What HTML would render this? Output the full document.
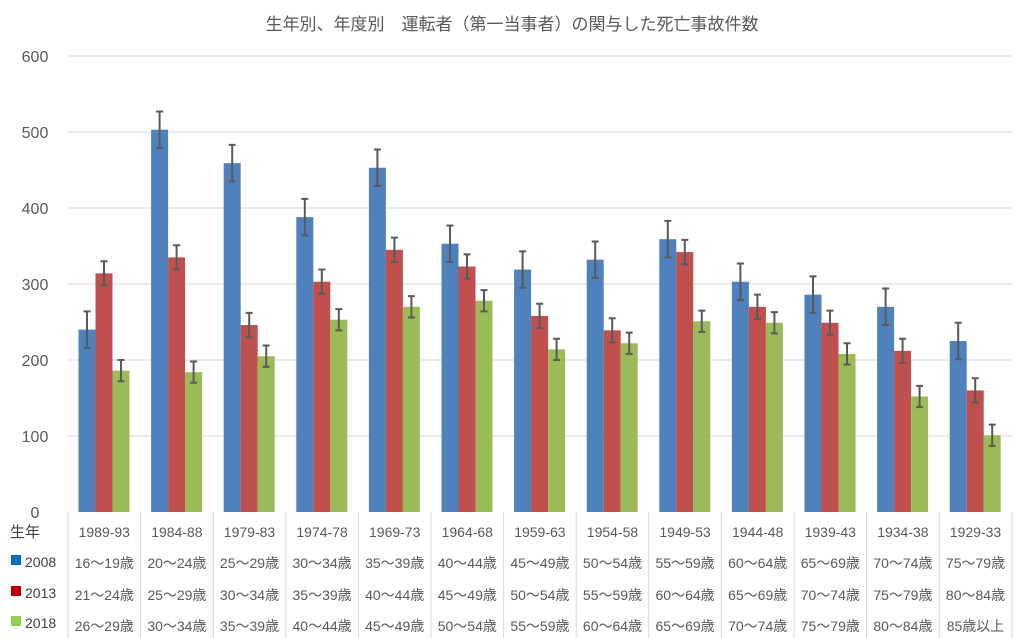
<!DOCTYPE html>
<html><head><meta charset="utf-8">
<style>
html,body{margin:0;padding:0;background:#fff;width:1024px;height:638px;overflow:hidden}
svg text{font-family:"Liberation Sans","Noto Sans CJK JP",sans-serif}
</style></head>
<body>
<svg id="c" width="1024" height="638" xmlns="http://www.w3.org/2000/svg"></svg>
<script>
const s=document.getElementById('c');
let h='';
h+='<text x="512" y="30" text-anchor="middle" font-size="17" fill="#595959">生年別、年度別　運転者（第一当事者）の関与した死亡事故件数</text>';
for(let i=0;i<=6;i++){const y=512-i*76;
 if(i>0)h+=`<line x1="68" x2="1012" y1="${y}" y2="${y}" stroke="#d9d9d9" stroke-width="1"/>`;
 h+=`<text x="35" y="${y+6}" text-anchor="middle" font-size="16" fill="#595959">${i*100}</text>`;}
const L=['1989-93','1984-88','1979-83','1974-78','1969-73','1964-68','1959-63','1954-58','1949-53','1944-48','1939-43','1934-38','1929-33'];
const D=[[240,314,186],[503,335,184],[459,246,205],[388,303,253],[453,345,270],[353,323,278],[319,258,214],[332,239,222],[359,342,251],[303,270,249],[286,249,208],[270,212,152],[225,160,101]];
const C=['#4f81bd','#c0504d','#9bbb59'],E=[24,16,14];
const R1=['16～19歳','20～24歳','25～29歳','30～34歳','35～39歳','40～44歳','45～49歳','50～54歳','55～59歳','60～64歳','65～69歳','70～74歳','75～79歳'];
const R2=['21～24歳','25～29歳','30～34歳','35～39歳','40～44歳','45～49歳','50～54歳','55～59歳','60～64歳','65～69歳','70～74歳','75～79歳','80～84歳'];
const R3=['26～29歳','30～34歳','35～39歳','40～44歳','45～49歳','50～54歳','55～59歳','60～64歳','65～69歳','70～74歳','75～79歳','80～84歳','85歳以上'];
const W=72.6;
for(let g=0;g<13;g++){const x0=68+g*W;
 for(let k=0;k<3;k++){const v=D[g][k],bx=x0+10.5+k*17,y=512-v*0.76;
  h+=`<rect x="${bx}" y="${y}" width="17" height="${512-y}" fill="${C[k]}"/>`;
  const cx=bx+8.5,e=E[k]*0.76;
  h+=`<path d="M${cx} ${y-e}V${y+e}M${cx-3.5} ${y-e}H${cx+3.5}M${cx-3.5} ${y+e}H${cx+3.5}" stroke="#595959" stroke-width="2" fill="none"/>`;}
 h+=`<line x1="${x0}" x2="${x0}" y1="512" y2="638" stroke="#d9d9d9"/>`;
 const cx=x0+W/2;
 h+=`<text x="${cx}" y="537" text-anchor="middle" font-size="14" fill="#595959">${L[g]}</text>`;
 h+=`<text x="${cx}" y="568" text-anchor="middle" font-size="14" fill="#595959">${R1[g]}</text>`;
 h+=`<text x="${cx}" y="600" text-anchor="middle" font-size="14" fill="#595959">${R2[g]}</text>`;
 h+=`<text x="${cx}" y="631" text-anchor="middle" font-size="14" fill="#595959">${R3[g]}</text>`;}
h+=`<line x1="1012" x2="1012" y1="512" y2="638" stroke="#d9d9d9"/>`;
h+='<text x="10" y="537" font-size="15" fill="#404040">生年</text>';
const Y=['2008','2013','2018'],LY=[567,598,628];
for(let k=0;k<3;k++){h+=`<rect x="11" y="${LY[k]-12}" width="10" height="10" fill="${['#0070c0','#c00000','#92d050'][k]}"/>`;
 h+=`<text x="25" y="${LY[k]}" font-size="14" fill="#404040">${Y[k]}</text>`;}
s.innerHTML=h;
</script>
</body></html>
